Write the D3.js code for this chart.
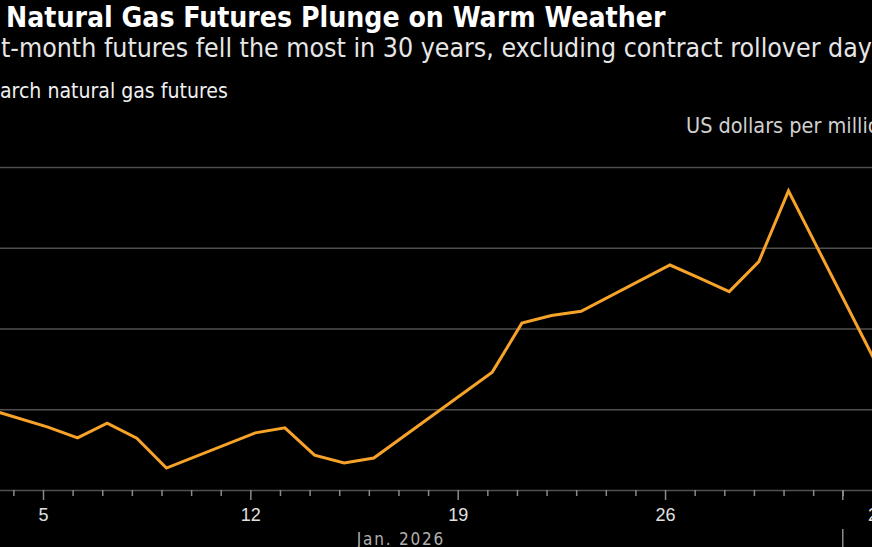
<!DOCTYPE html>
<html>
<head>
<meta charset="utf-8">
<script src="https://cdn.jsdelivr.net/npm/d3@7"></script>
<style>
  html, body { margin: 0; padding: 0; background: #000; overflow: hidden; }
  svg { display: block; font-family: "DejaVu Sans Condensed", "Liberation Sans Narrow", "Open Sans", sans-serif; font-stretch: condensed; }
</style>
</head>
<body>
<svg id="chart" width="872" height="547"></svg>
<script>
// March natural gas futures, settlements (US$/MMBtu)
var dates = ["2026-01-02","2026-01-05","2026-01-06","2026-01-07","2026-01-08","2026-01-09",
  "2026-01-12","2026-01-13","2026-01-14","2026-01-15","2026-01-16",
  "2026-01-20","2026-01-21","2026-01-22","2026-01-23",
  "2026-01-26","2026-01-27","2026-01-28","2026-01-29","2026-01-30",
  "2026-02-02"];
var prices = [3.056, 2.889, 2.823, 2.914, 2.821, 2.636,
  2.854, 2.885, 2.716, 2.667, 2.698,
  3.230, 3.533, 3.580, 3.607,
  3.893, 3.812, 3.728, 3.914, 4.352,
  3.270];
var yTicks = [2.5, 3.0, 3.5, 4.0, 4.5];
var monthLabel = "Jan. 2026";

var title = "US Natural Gas Futures Plunge on Warm Weather";
var subtitle = "Front-month futures fell the most in 30 years, excluding contract rollover days";
var seriesName = "March natural gas futures";
var unitLabel = "US dollars per million British thermal units";

var svg = d3.select("#chart");
var parse = d3.timeParse("%Y-%m-%d");
var data = dates.map(function(d, i) {
  return {date: d3.timeHour.offset(parse(d), 4), value: prices[i]};
});

var x = d3.scaleTime()
  .domain([parse("2026-01-05"), parse("2026-02-02")])
  .range([43, 872.4]);
var y = d3.scaleLinear().domain([2.5, 4.5]).range([490, 167]);

// fit a piece of a text line to a measured width, then slide it so that piece starts at px
function fitText(t, from, count, width, px) {
  var node = t.node();
  var fs = parseFloat(t.attr("font-size"));
  var w = node.getSubStringLength(from, count);
  fs = fs * width / w;
  t.attr("font-size", fs);
  var off = from > 0 ? node.getSubStringLength(0, from) : 0;
  t.attr("x", px - off);
}

// header texts
var t1 = svg.append("text").attr("y", 27).attr("font-size", 24)
  .attr("font-weight", "bold").attr("fill", "#fff").text(title);
fitText(t1, 3, title.length - 3, 660, 6);

var t2 = svg.append("text").attr("y", 57).attr("font-size", 21)
  .attr("fill", "#e6e6e6").text(subtitle);
fitText(t2, 4, subtitle.indexOf("days") + 3 - 4, 871, 1);

var t3 = svg.append("text").attr("y", 98).attr("font-size", 17)
  .attr("fill", "#f0f0f0").text(seriesName);
fitText(t3, 1, seriesName.length - 1, 228, 0);

var t4 = svg.append("text").attr("y", 133).attr("font-size", 16)
  .attr("fill", "#d0d0d0").text(unitLabel);
fitText(t4, 0, 20, 182, 686);

// gridlines
var grid = svg.append("g").attr("class", "grid")
  .attr("transform", "translate(930,0)")
  .call(d3.axisRight(y).tickValues(yTicks).tickSize(-1100).tickPadding(8)
    .tickFormat(d3.format(".2f")));
grid.select(".domain").remove();
grid.selectAll("line").attr("stroke", "#4f4f4f").attr("stroke-width", 1.6);
grid.selectAll("text").attr("fill", "#ddd").attr("font-size", 16);

// x axis: a tick each day, longer ticks and labels on Mondays
var days = d3.timeDay.range(parse("2026-01-01"), parse("2026-02-04"));
var mondays = days.filter(function(d) { return d.getDay() === 1; });
var minor = days.filter(function(d) { return d.getDay() !== 1; });

var xMinor = svg.append("g").attr("transform", "translate(0,490)")
  .call(d3.axisBottom(x).tickValues(minor).tickSize(6).tickFormat(""));
xMinor.select(".domain").remove();
var xMajor = svg.append("g").attr("transform", "translate(0,490)")
  .call(d3.axisBottom(x).tickValues(mondays).tickSize(10).tickPadding(8)
    .tickFormat(d3.timeFormat("%-d")));
xMajor.select(".domain").remove();
svg.selectAll(".tick line").filter(function() { return this.parentNode.parentNode !== grid.node(); })
  .attr("stroke", "#8a8a8a").attr("stroke-width", 1.5);
xMajor.selectAll("text").attr("fill", "#e0e0e0").attr("font-size", 18)
  .attr("font-family", null);

// month boundary and label
var feb1 = parse("2026-02-01");
svg.append("line").attr("x1", x(feb1)).attr("x2", x(feb1))
  .attr("y1", 490).attr("y2", 500).attr("stroke", "#8a8a8a").attr("stroke-width", 1.5);
svg.append("line").attr("x1", x(feb1)).attr("x2", x(feb1))
  .attr("y1", 529).attr("y2", 560).attr("stroke", "#8a8a8a").attr("stroke-width", 1.5);
svg.append("text")
  .attr("x", (x(data[0].date) + x(feb1)) / 2).attr("y", 545)
  .attr("text-anchor", "middle").attr("font-size", 17).attr("letter-spacing", 1.8)
  .attr("fill", "#b0b0b0").text(monthLabel);

// price line
var line = d3.line()
  .x(function(d) { return x(d.date); })
  .y(function(d) { return y(d.value); });
svg.append("path").datum(data)
  .attr("fill", "none").attr("stroke", "#f7a228").attr("stroke-width", 3)
  .attr("stroke-linejoin", "miter").attr("d", line);
</script>
</body>
</html>
